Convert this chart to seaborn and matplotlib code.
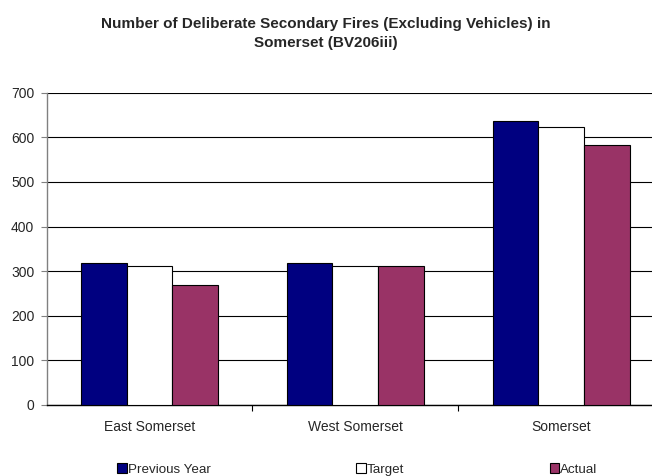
import matplotlib
matplotlib.use("Agg")
import matplotlib.pyplot as plt
from matplotlib.patches import Patch
from matplotlib.ticker import FixedLocator, MultipleLocator
import pandas as pd
import seaborn as sns

# Data
areas = ["East Somerset", "West Somerset", "Somerset"]
series_names = ["Previous Year", "Target", "Actual"]
previous_year = [318, 318, 636]
target = [312, 312, 624]
actual = [269, 311, 582]
series_colors = ["#000080", "#FFFFFF", "#993366"]

title_text = "Number of Deliberate Secondary Fires (Excluding Vehicles) in\nSomerset (BV206iii)"

df = pd.DataFrame({
    "Area": areas * 3,
    "Series": [s for s in series_names for _ in areas],
    "Fires": previous_year + target + actual,
})

sns.set_theme(style="white")
plt.rcParams["font.family"] = ["Liberation Sans", "DejaVu Sans"]

fig = plt.figure(figsize=(6.52, 4.76), dpi=100)
ax = fig.add_axes([46.7 / 652, 1 - 405 / 476, (664 - 46.7) / 652, (405 - 92.7) / 476])

sns.barplot(
    data=df, x="Area", y="Fires", hue="Series",
    order=areas, hue_order=series_names,
    palette=series_colors, width=2 / 3, gap=0,
    edgecolor="black", linewidth=0.8, saturation=1,
    ax=ax, legend=False, zorder=3,
)

ax.set_xlim(-0.5, 2.5)
ax.set_ylim(0, 700)
ax.yaxis.set_major_locator(MultipleLocator(100))
ax.grid(axis="y", color="black", linewidth=0.8, zorder=0)
ax.set_axisbelow(True)
ax.set_xlabel("")
ax.set_ylabel("")

for side in ("top", "right"):
    ax.spines[side].set_visible(False)
ax.spines["left"].set_color("#808080")
ax.spines["left"].set_linewidth(1.0)
ax.spines["bottom"].set_color("black")
ax.spines["bottom"].set_linewidth(1.0)

ax.tick_params(axis="y", which="major", direction="out", length=4, width=0.8,
               color="#808080", labelsize=10, pad=5, left=True)
ax.tick_params(axis="x", which="major", length=0, labelsize=10, pad=10.5)
ax.xaxis.set_minor_locator(FixedLocator([0.5, 1.5]))
ax.tick_params(axis="x", which="minor", direction="out", length=4, width=0.8,
               color="black", bottom=True)

fig.text(0.5, 1 - 33.5 / 476, title_text, ha="center", va="center",
         fontsize=11, fontweight="bold", linespacing=1.45)

handles = [Patch(facecolor=c, edgecolor="black", linewidth=0.8) for c in series_colors]
fig.legend(handles, series_names, loc="center", bbox_to_anchor=(357.4 / 652, 1 - 469.5 / 476),
           ncol=3, frameon=False, fontsize=9.6, handlelength=0.7, handleheight=0.7,
           handletextpad=0.1, columnspacing=10.9, borderaxespad=0, borderpad=0)

fig.savefig("out.png", dpi=100)
